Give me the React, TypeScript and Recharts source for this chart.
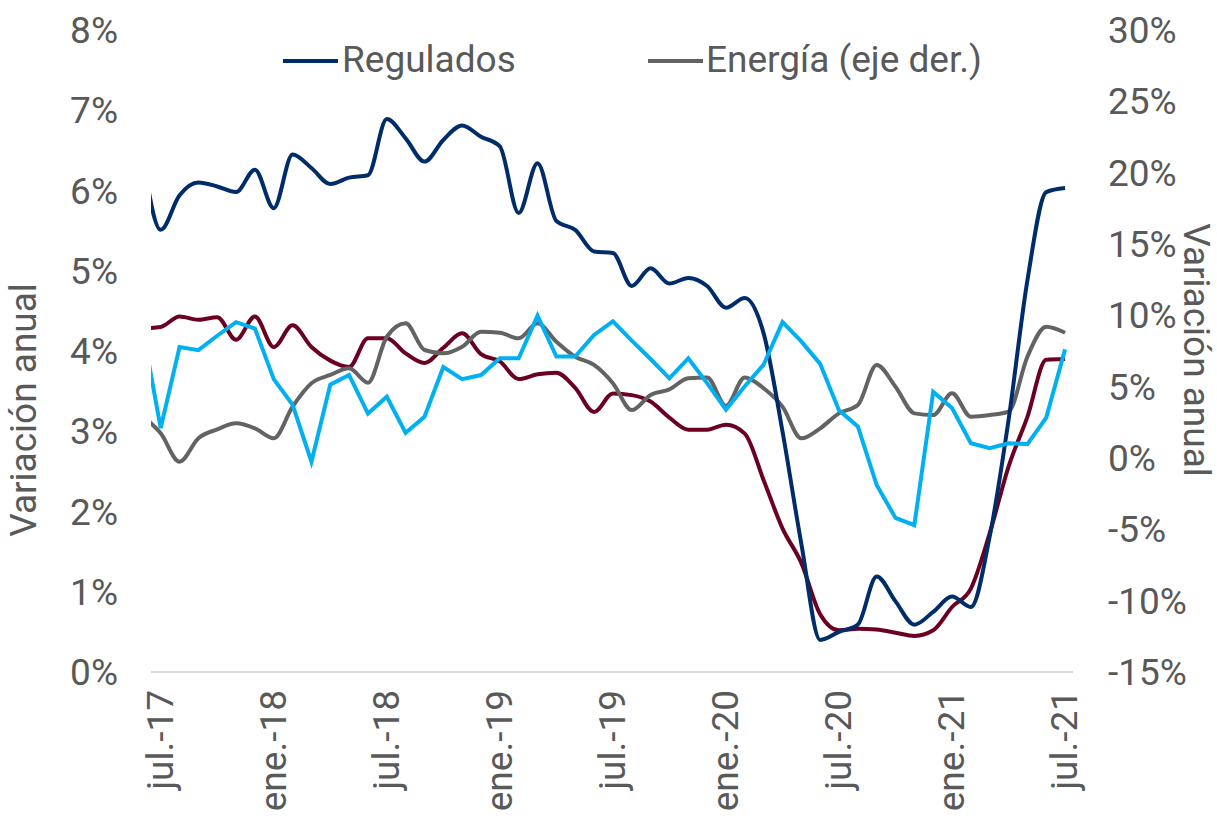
import { LineChart, Line, XAxis, YAxis } from "recharts"

// meses: jun.-17 a jul.-21 (el primero queda fuera del área del gráfico)
const meses = [
  "jun.-17", "jul.-17", "ago.-17", "sep.-17", "oct.-17", "nov.-17", "dic.-17",
  "ene.-18", "feb.-18", "mar.-18", "abr.-18", "may.-18", "jun.-18", "jul.-18", "ago.-18", "sep.-18", "oct.-18", "nov.-18", "dic.-18",
  "ene.-19", "feb.-19", "mar.-19", "abr.-19", "may.-19", "jun.-19", "jul.-19", "ago.-19", "sep.-19", "oct.-19", "nov.-19", "dic.-19",
  "ene.-20", "feb.-20", "mar.-20", "abr.-20", "may.-20", "jun.-20", "jul.-20", "ago.-20", "sep.-20", "oct.-20", "nov.-20", "dic.-20",
  "ene.-21", "feb.-21", "mar.-21", "abr.-21", "may.-21", "jun.-21", "jul.-21",
]

// Regulados (eje izq., %)
const regulados = [
  6.5, 5.51, 5.94, 6.1, 6.05, 5.98, 6.26, 5.78, 6.45, 6.28, 6.08, 6.16, 6.19, 6.89, 6.65, 6.36, 6.63,
  6.81, 6.67, 6.55, 5.72, 6.34, 5.62, 5.51, 5.24, 5.22, 4.81, 5.03, 4.84, 4.91, 4.81, 4.54, 4.66,
  4.22, 3.0, 1.6, 0.4, 0.5, 0.59, 1.19, 0.88, 0.59, 0.75, 0.94, 0.81, 1.69, 3.14, 4.88, 5.98, 6.03,
]

// Energía (eje der., %)
const energia = [
  3.0, 1.73, -0.26, 1.38, 2.01, 2.43, 2.08, 1.38, 3.6, 5.24, 5.82, 6.29, 5.28, 8.5, 9.44, 7.57, 7.34,
  7.8, 8.85, 8.78, 8.39, 9.44, 8.15, 7.1, 6.52, 5.24, 3.36, 4.42, 4.81, 5.59, 5.65, 3.65, 5.65,
  4.89, 3.6, 1.38, 2.08, 3.13, 3.71, 6.52, 5.0, 3.13, 3.01, 4.53, 2.9, 3.01, 3.25, 7.1, 9.2, 8.78,
]

// serie guinda (eje izq., %)
const guinda = [
  4.28, 4.3, 4.43, 4.39, 4.42, 4.14, 4.43, 4.05, 4.32, 4.05, 3.88, 3.8, 4.16, 4.16, 3.97, 3.85, 4.04,
  4.22, 3.96, 3.87, 3.65, 3.71, 3.73, 3.54, 3.24, 3.47, 3.45, 3.37, 3.17, 3.02, 3.02, 3.08, 2.97,
  2.39, 1.79, 1.36, 0.72, 0.52, 0.54, 0.53, 0.49, 0.45, 0.52, 0.81, 1.04, 1.73, 2.56, 3.18, 3.89, 3.9,
]

// serie celeste (eje izq., %)
const celeste = [
  4.32, 3.04, 4.05, 4.01, 4.19, 4.36, 4.28, 3.65, 3.33, 2.62, 3.58, 3.7, 3.22, 3.43, 2.98, 3.18, 3.8,
  3.65, 3.7, 3.91, 3.91, 4.44, 3.93, 3.93, 4.2, 4.37, 4.13, 3.9, 3.66, 3.91, 3.6, 3.27, 3.56,
  3.83, 4.36, 4.12, 3.84, 3.26, 3.06, 2.33, 1.92, 1.83, 3.49, 3.29, 2.85, 2.79, 2.85, 2.84, 3.17, 4.02,
]

const xTicks = [0, 6, 12, 18, 24, 30, 36, 42, 48]
const leftTicks = [0, 1, 2, 3, 4, 5, 6, 7, 8]
const rightTicks = [-15, -10, -5, 0, 5, 10, 15, 20, 25, 30]

const data = meses.map((mes, i) => ({
  t: i - 1,
  mes,
  regulados: regulados[i],
  energia: energia[i],
  guinda: guinda[i],
  celeste: celeste[i],
}))

const TEXTO = "#595959"
const FONT = "Roboto, sans-serif"
const FS = 37

function MesTick({ x, y, payload }: any) {
  return (
    <text
      x={x}
      y={y}
      transform={`rotate(-90 ${x} ${y})`}
      textAnchor="end"
      dy="0.33em"
      fill={TEXTO}
      fontSize={FS}
      fontFamily={FONT}
    >
      {meses[payload.value + 1]}
    </text>
  )
}

export default function App() {
  return (
    <div style={{ position: "absolute", left: 0, top: 0, width: 1217, height: 822, background: "#fff" }}>
      <LineChart
        width={1217}
        height={822}
        data={data}
        margin={{ top: 30, right: 44, bottom: 10, left: 41 }}
      >
        <XAxis
          dataKey="t"
          type="number"
          domain={[-0.515, 48.42]}
          allowDataOverflow
          ticks={xTicks}
          interval={0}
          height={140}
          tickSize={0}
          tickMargin={18}
          tick={<MesTick />}
          axisLine={{ stroke: "#d9d9d9", strokeWidth: 2 }}
          tickLine={false}
        />
        <YAxis
          yAxisId="left"
          domain={[0, 8]}
          ticks={leftTicks}
          width={110}
          tickSize={0}
          tickMargin={33}
          axisLine={false}
          tickLine={false}
          tickFormatter={(v) => `${v}%`}
          tick={{ fill: TEXTO, fontSize: FS, fontFamily: FONT }}
        />
        <YAxis
          yAxisId="right"
          orientation="right"
          domain={[-15, 30]}
          ticks={rightTicks}
          width={100}
          tickSize={0}
          tickMargin={35}
          axisLine={false}
          tickLine={false}
          tickFormatter={(v) => `${v}%`}
          tick={{ fill: TEXTO, fontSize: FS, fontFamily: FONT, textAnchor: "start" }}
        />
        <Line yAxisId="left" type="monotone" dataKey="guinda" stroke="#6b0020" strokeWidth={4} dot={false} isAnimationActive={false} />
        <Line yAxisId="right" type="monotone" dataKey="energia" stroke="#636363" strokeWidth={4} dot={false} isAnimationActive={false} />
        <Line yAxisId="left" type="monotone" dataKey="regulados" stroke="#002d6a" strokeWidth={4} dot={false} isAnimationActive={false} />
        <Line yAxisId="left" type="linear" dataKey="celeste" stroke="#00b0f0" strokeWidth={4} dot={false} isAnimationActive={false} />
      </LineChart>
      <svg
        width={1217}
        height={822}
        style={{ position: "absolute", left: 0, top: 0, pointerEvents: "none" }}
        fontFamily={FONT}
        fontSize={FS}
        fill={TEXTO}
      >
        <line x1={283} x2={338} y1={61} y2={61} stroke="#002d6a" strokeWidth={4} />
        <text x={342} y={72}>Regulados</text>
        <line x1={648} x2={703} y1={61} y2={61} stroke="#636363" strokeWidth={4} />
        <text x={706} y={72}>Energía (eje der.)</text>
        <text x={36} y={410} transform="rotate(-90 36 410)" textAnchor="middle">Variación anual</text>
        <text x={1184} y={350} transform="rotate(90 1184 350)" textAnchor="middle">Variación anual</text>
      </svg>
    </div>
  )
}
